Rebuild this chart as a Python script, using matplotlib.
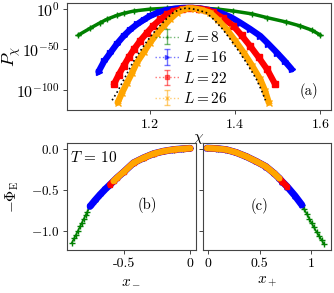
import numpy as np
import matplotlib
matplotlib.use("Agg")
import matplotlib.pyplot as plt
from matplotlib.ticker import FixedLocator, NullLocator, LogFormatterMathtext

plt.rcParams['font.family'] = 'serif'
plt.rcParams['font.serif'] = ['cmr10']
plt.rcParams['mathtext.fontset'] = 'cm'
plt.rcParams['axes.formatter.use_mathtext'] = True
plt.rcParams['axes.unicode_minus'] = True

# ---------------- panel (a): log10 P_chi vs chi ----------------
labels_L = [r'$L=8$', r'$L=16$', r'$L=22$', r'$L=26$']
colors = ['green', 'blue', 'red', 'orange']
markers = ['+', '>', 's', 'x']

chi_L8 = [1.032, 1.06, 1.083, 1.10, 1.122, 1.14, 1.162, 1.20, 1.24, 1.28, 1.318,
          1.36, 1.396, 1.44, 1.475, 1.52, 1.553, 1.58, 1.60]
logP_L8 = [-32.5, -24, -17.3, -12.8, -8.3, -5.5, -2.9, -0.6, 0.6, 1.0, 0.8,
           -0.6, -2.9, -6.5, -11.1, -16.5, -21.4, -26.5, -32.5]

chi_L16 = [1.079, 1.092, 1.107, 1.122, 1.138, 1.153, 1.169, 1.185, 1.20, 1.22, 1.24,
           1.26, 1.28, 1.30, 1.32, 1.34, 1.365, 1.39, 1.412, 1.435, 1.459, 1.478,
           1.498, 1.516, 1.533]
logP_L16 = [-77.8, -65, -54.3, -43.5, -33.7, -26, -19.4, -13.8, -9, -4.5, -1.5,
            0.2, 1, 1, 0.2, -1.8, -4.9, -10.5, -17.3, -25, -33.7, -43.5,
            -54.3, -64.5, -74.9]

chi_L22 = [1.115, 1.126, 1.138, 1.15, 1.162, 1.177, 1.193, 1.208, 1.224, 1.24, 1.256,
           1.275, 1.295, 1.315, 1.332, 1.349, 1.372, 1.396, 1.415, 1.435, 1.455,
           1.475, 1.494]
logP_L22 = [-93.4, -82, -70.8, -60, -50.2, -39.5, -29.6, -20.8, -13.2, -7, -3,
            -0.5, 0.5, 0, -1.5, -4.5, -12, -21.4, -33, -46, -60, -74.9, -93.4]

chi_L26 = [1.124, 1.134, 1.146, 1.158, 1.169, 1.185, 1.20, 1.216, 1.232, 1.248, 1.264,
           1.278, 1.292, 1.306, 1.32, 1.341, 1.36, 1.38, 1.40, 1.42, 1.44, 1.459,
           1.470, 1.479]
logP_L26 = [-116, -104, -91.4, -79, -66.7, -54, -42, -31, -21.4, -12.5, -4.9,
            -1, 0.5, 0, -1.5, -4.9, -14, -25.6, -39.5, -54.3, -70.5, -87.3,
            -101, -116]

chi_theory = [1.111, 1.125, 1.137, 1.149, 1.160, 1.176, 1.191, 1.207, 1.223, 1.239,
              1.255, 1.269, 1.283, 1.297, 1.311, 1.332, 1.351, 1.371, 1.391, 1.411,
              1.431, 1.450, 1.462, 1.471]
logP_theory = [-113, -101, -89, -77, -66, -53, -41.5, -30.5, -21, -12.3,
               -4.8, -1, 0.5, 0, -1.5, -4.9, -14, -25.6, -39.5, -54.3,
               -70.5, -87.3, -101, -113]

chi_series = [chi_L8, chi_L16, chi_L22, chi_L26]
logP_series = [logP_L8, logP_L16, logP_L22, logP_L26]

# ---------------- panels (b),(c): -Phi_E vs x_- and x_+ ----------------
xm = [0.0, -0.05, -0.123, -0.2, -0.275, -0.35, -0.427, -0.5, -0.55, -0.578, -0.604,
      -0.64, -0.68, -0.72, -0.755, -0.776, -0.79, -0.804, -0.818, -0.831, -0.848,
      -0.862, -0.875, -0.894]
phim = [0.005, 0.0, -0.01, -0.03, -0.06, -0.11, -0.171, -0.28, -0.35, -0.394, -0.435,
        -0.49, -0.557, -0.63, -0.699, -0.765, -0.81, -0.855, -0.90, -0.943, -1.0,
        -1.045, -1.085, -1.146]
xm_end = [24, 15, 11, 10]   # number of points of each L series in (b)

xp = [-0.01, 0.1, 0.178, 0.27, 0.368, 0.46, 0.559, 0.64, 0.69, 0.717, 0.765, 0.84,
      0.908, 0.93, 0.955, 0.98, 1.003, 1.025, 1.05, 1.075, 1.10, 1.121]
phip = [0.008, 0.0, -0.012, -0.045, -0.094, -0.15, -0.216, -0.30, -0.36, -0.399,
        -0.46, -0.57, -0.683, -0.735, -0.79, -0.85, -0.906, -0.955, -1.01, -1.06,
        -1.11, -1.159]
xp_end = [22, 13, 11, 9]

fig = plt.figure(figsize=(3.34, 2.93), dpi=100)
axa = fig.add_axes([0.2006, 0.6246, 0.7904, 0.3652])
axb = fig.add_axes([0.2006, 0.1468, 0.3862, 0.3652])
axc = fig.add_axes([0.6078, 0.1468, 0.3832, 0.3652])

spine_c = '#444444'
for ax in (axa, axb, axc):
    for s in ax.spines.values():
        s.set_color(spine_c)
        s.set_linewidth(0.8)
    ax.tick_params(direction='out', length=3, width=0.7, color=spine_c,
                   labelsize=10, pad=2.5)
axa.tick_params(axis='y', labelsize=11.5, pad=2)
axb.tick_params(axis='y', labelsize=9.5)

# panel (a)
lws = [2.5, 4.5, 4.5, 4.5]
for i in range(4):
    P = 10.0 ** np.array(logP_series[i])
    axa.plot(chi_series[i], P, color=colors[i], lw=lws[i], solid_capstyle='round',
             zorder=2 + i)
    axa.plot(chi_series[i], P, ls='none', marker=markers[i], ms=4, mew=1,
             color=colors[i], zorder=2 + i)
    axa.errorbar(chi_series[i], P, yerr=0, fmt=':', marker=markers[i], ms=3,
                 lw=1, color=colors[i], alpha=0.55, capsize=2.5,
                 label=labels_L[i], zorder=2 + i)
axa.plot(chi_theory, 10.0 ** np.array(logP_theory), color='black', ls=':',
         lw=1.2, zorder=10)
axa.set_yscale('log')
axa.set_xlim(1.005, 1.625)
axa.set_ylim(1e-125, 1e7)
axa.yaxis.set_major_locator(FixedLocator([1e0, 1e-50, 1e-100]))
axa.yaxis.set_minor_locator(NullLocator())
axa.yaxis.set_major_formatter(LogFormatterMathtext())
axa.set_xticks([1.2, 1.4, 1.6])
axa.set_xlabel(r'$\chi$', fontsize=11, labelpad=1)
axa.set_ylabel(r'$P_\chi$', fontsize=13)
axa.yaxis.set_label_coords(-0.165, 0.5)
axa.text(0.916, 0.173, '(a)', transform=axa.transAxes, fontsize=10.5,
         ha='center', va='center')
leg = axa.legend(loc='upper left', bbox_to_anchor=(0.32, 0.775), frameon=False,
                 fontsize=11, handlelength=1.65, handletextpad=0.2,
                 labelspacing=0.35, borderpad=0.2, borderaxespad=0)
leg.set_zorder(20)

# panel (b)
for i in range(4):
    n = xm_end[i]
    if i == 0:
        axb.plot(xm[:n], phim[:n], color=colors[i], lw=1.2, zorder=2)
        axb.plot(xm[:n], phim[:n], ls='none', marker='+', ms=4.5, mew=1,
                 color=colors[i], zorder=2)
    else:
        axb.plot(xm[:n], phim[:n], color=colors[i], lw=5 if i == 1 else 4.5,
                 solid_capstyle='round', zorder=2 + i)
        axb.plot(xm[:n], phim[:n], ls='none', marker=markers[i], ms=3.5,
                 color=colors[i], zorder=2 + i)
axb.set_xlim(-0.93, 0.045)
axb.set_ylim(-1.23, 0.07)
axb.set_xticks([-0.5, 0])
axb.set_xticklabels(['-0.5', '0'])
axb.set_yticks([0.0, -0.5, -1.0])
axb.set_xlabel(r'$x_-$', fontsize=11, labelpad=3)
axb.set_ylabel(r'$-\Phi_{\rm E}$', fontsize=11)
axb.yaxis.set_label_coords(-0.36, 0.5)
axb.text(0.02, 0.935, r'$T\,=\,10$', transform=axb.transAxes, fontsize=11,
         ha='left', va='top')
axb.text(0.624, 0.416, '(b)', transform=axb.transAxes, fontsize=10.5,
         ha='center', va='center')

# panel (c)
for i in range(4):
    n = xp_end[i]
    if i == 0:
        axc.plot(xp[:n], phip[:n], color=colors[i], lw=1.2, zorder=2)
        axc.plot(xp[:n], phip[:n], ls='none', marker='+', ms=4.5, mew=1,
                 color=colors[i], zorder=2)
    else:
        axc.plot(xp[:n], phip[:n], color=colors[i], lw=5 if i == 1 else 4.5,
                 solid_capstyle='round', zorder=2 + i)
        axc.plot(xp[:n], phip[:n], ls='none', marker=markers[i], ms=3.5,
                 color=colors[i], zorder=2 + i)
axc.set_xlim(-0.05, 1.19)
axc.set_ylim(-1.23, 0.07)
axc.set_xticks([0, 0.5, 1])
axc.set_xticklabels(['0', '0.5', '1'])
axc.set_yticks([0.0, -0.5, -1.0])
axc.set_yticklabels([])
axc.set_xlabel(r'$x_+$', fontsize=11, labelpad=3)
axc.text(0.445, 0.407, '(c)', transform=axc.transAxes, fontsize=10.5,
         ha='center', va='center')

fig.savefig('out.png', dpi=100)
